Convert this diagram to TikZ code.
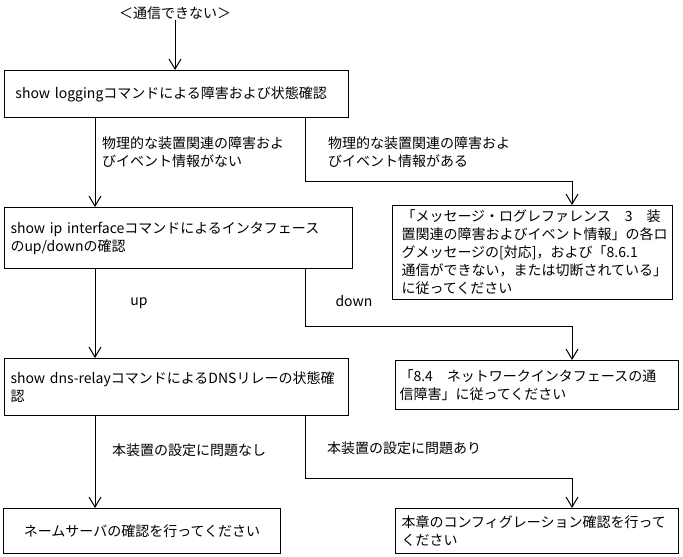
\documentclass[tikz,border=0pt]{standalone}
\usepackage{fontspec}
\setmainfont{Noto Sans CJK JP}
\usepackage{tikz}
\usepackage{xcolor}
\usetikzlibrary{arrows.meta,positioning,calc}
\definecolor{ink}{HTML}{000000}
\definecolor{paper}{HTML}{FFFFFF}
\tikzset{
  box/.style={draw=ink, fill=paper, line width=1pt, anchor=north west,
              align=left, inner ysep=0pt, font=\jpfont},
  flow/.style={-{Straight Barb[length=10pt,width=12pt]}, line width=1pt, draw=ink},
  cond/.style={align=left, inner sep=0pt, font=\jpfont, text=ink}
}
\newcommand{\jpfont}{\fontsize{14pt}{18pt}\selectfont}

\begin{document}
\begin{tikzpicture}[x=1pt,y=-1pt]
  \useasboundingbox[fill=paper] (0,0) rectangle (683,557);
  % main column of checks
  \node[cond] (start) at (175,13) {＜通信できない＞};
  \node[box, inner xsep=11pt, minimum width=344pt, minimum height=47pt, text width=322pt]
    (logchk) at (4,70) {show loggingコマンドによる障害および状態確認};
  \node[box, inner xsep=6pt, minimum width=348pt, minimum height=61pt, text width=336pt]
    (ifchk) at (4,207) {show ip interfaceコマンドによるインタフェース\\のup/downの確認};
  \node[box, inner xsep=6pt, minimum width=344pt, minimum height=57pt, text width=332pt]
    (dnschk) at (4,358) {show dns-relayコマンドによるDNSリレーの状態確\\認};
  \node[box, align=center, inner xsep=6pt, minimum width=277pt, minimum height=45pt, text width=265pt]
    (nsvchk) at (3,508) {ネームサーバの確認を行ってください};
  % right column of actions
  \node[box, inner xsep=9pt, minimum width=280pt, minimum height=94pt, text width=262pt]
    (msgref) at (392,205) {「メッセージ・ログレファレンス　3　装\\置関連の障害およびイベント情報」の各ロ\\グメッセージの[対応]，および「8.6.1\\通信ができない，または切断されている」\\に従ってください};
  \node[box, inner xsep=4pt, minimum width=283pt, minimum height=49pt, text width=275pt]
    (netif) at (395,360) {「8.4　ネットワークインタフェースの通\\信障害」に従ってください};
  \node[box, inner xsep=6pt, minimum width=283pt, minimum height=45pt, text width=271pt]
    (cfgchk) at (395,508) {本章のコンフィグレーション確認を行って\\ください};

  % connectors
  \draw[flow] (start.south) -- (logchk.north -| start.south);
  \draw[flow] ([xshift=91pt]logchk.south west) -- ([xshift=91pt]ifchk.north west);
  \draw[flow] ([xshift=301pt]logchk.south west) -- ++(0,63) -| ([xshift=180pt]msgref.north west);
  \draw[flow] ([xshift=91pt]ifchk.south west) -- ([xshift=91pt]dnschk.north west);
  \draw[flow] ([xshift=301pt]ifchk.south west) -- ++(0,57) -| ([xshift=177pt]netif.north west);
  \draw[flow] ([xshift=91pt]dnschk.south west) -- ([xshift=92pt]nsvchk.north west);
  \draw[flow] ([xshift=301pt]dnschk.south west) -- ++(0,62) -| ([xshift=177pt]cfgchk.north west);

  % branch conditions
  \node[cond, anchor=west] (nophys) at (102,152.5) {物理的な装置関連の障害およ\\びイベント情報がない};
  \node[cond, anchor=west] (isphys) at (328,152.5) {物理的な装置関連の障害およ\\びイベント情報がある};
  \node[cond] (ifup) at (139,303) {up};
  \node[cond] (ifdown) at (354,301) {down};
  \node[cond, anchor=west] (cfgok) at (112,450) {本装置の設定に問題なし};
  \node[cond, anchor=west] (cfgng) at (327,448) {本装置の設定に問題あり};
\end{tikzpicture}
\end{document}
